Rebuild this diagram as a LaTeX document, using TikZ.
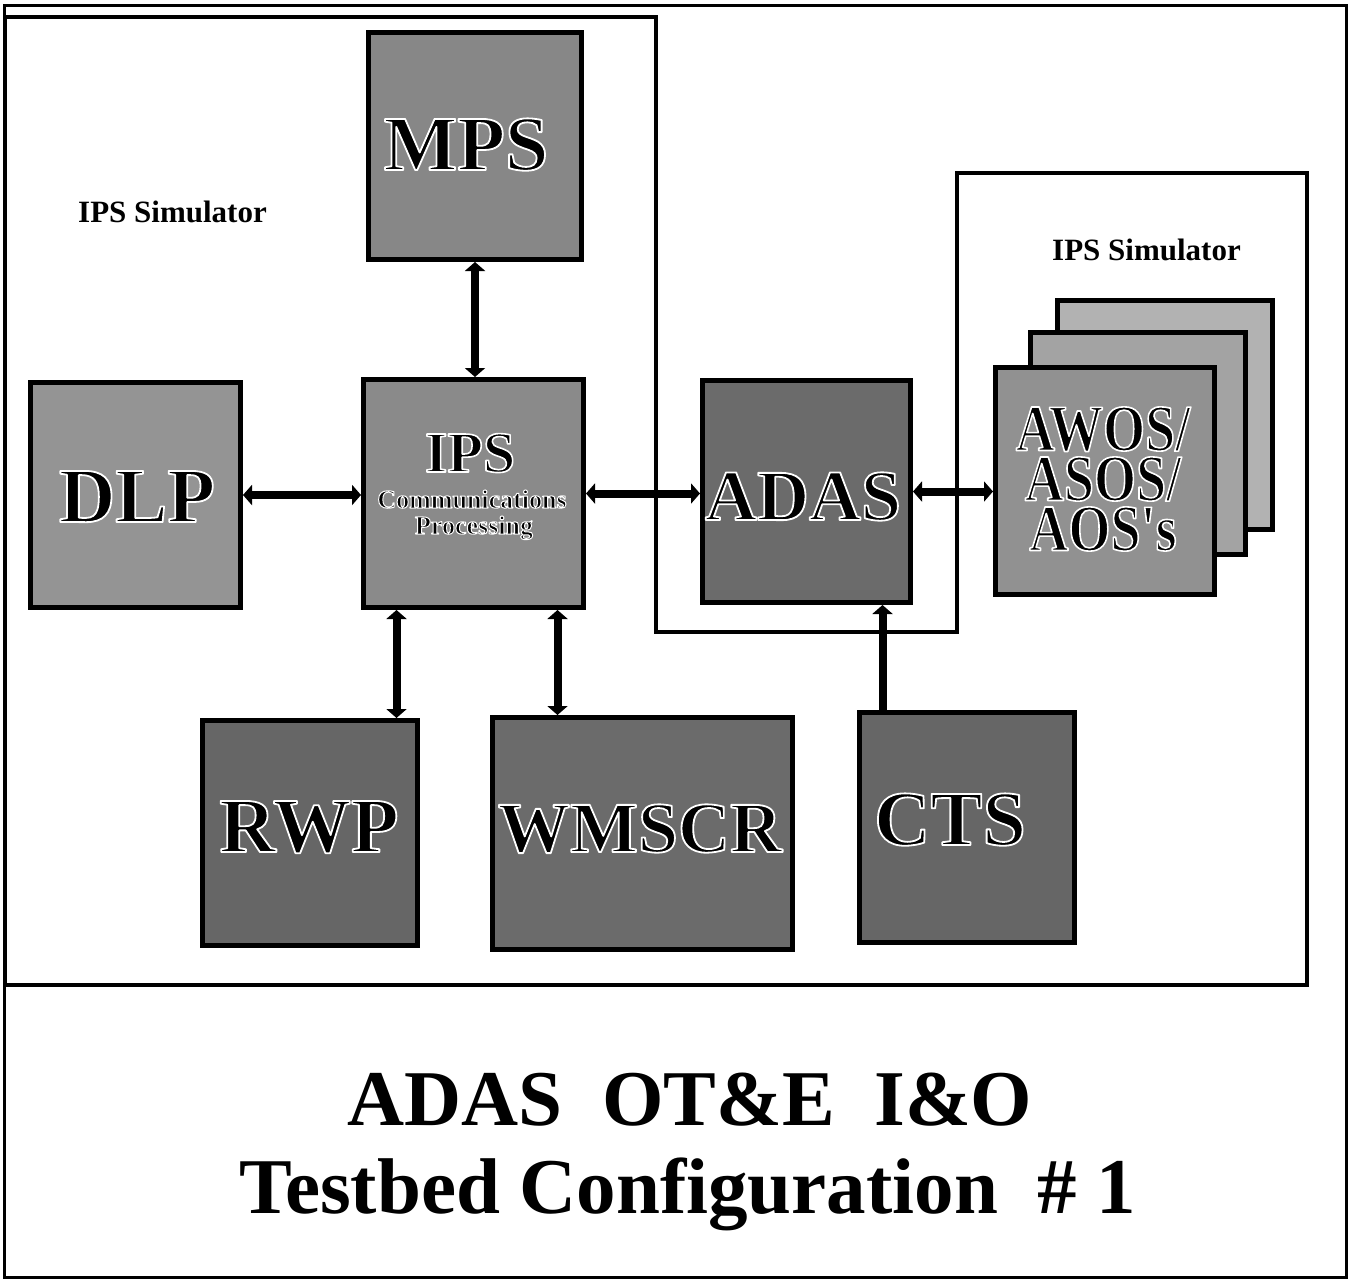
\documentclass[tikz,border=0pt]{standalone}
\usepackage{fontspec}
\setmainfont{Liberation Serif}
\newfontfamily\condfont[FakeStretch=0.82]{Liberation Serif}
\usetikzlibrary{arrows.meta}
% thin white outline round black letters: text render mode 2 (fill, then stroke) with a white stroke
\newcommand\halo[2][1.8]{\special{pdf:literal direct 2 Tr #1 w 1 j 1 G}#2\special{pdf:literal direct 0 Tr 0 G}}
\tikzset{
  blk/.style={draw=black, line width=5pt, rectangle, inner sep=0pt},
  lbl/.style={font=\fontsize{78}{78}\selectfont\bfseries, anchor=base, inner sep=0pt},
  small/.style={font=\fontsize{26}{26}\selectfont\bfseries, anchor=base, inner sep=0pt},
  simlbl/.style={font=\fontsize{31}{31}\selectfont\bfseries, anchor=base west, inner sep=0pt},
  ttl/.style={font=\fontsize{79}{79}\selectfont\bfseries, anchor=base, inner sep=0pt},
  conn/.style={line width=8pt, arrows={Triangle[length=9pt,width=20pt]-Triangle[length=9pt,width=20pt]}},
  conn1/.style={line width=8pt, arrows={-Triangle[length=9pt,width=20pt]}},
  framel/.style={line width=4pt, line join=miter}
}
\begin{document}
\begin{tikzpicture}[x=1pt,y=-1pt]
\useasboundingbox (0,0) rectangle (1352,1280);
% frames
\draw[line width=3pt] (4,5) rectangle (1346,1277);
\draw[framel] (5,17) -- (656,17) -- (656,632) -- (957,632) -- (957,173) -- (1307,173) -- (1307,985) -- (5,985) -- cycle;
% labels of simulators
\node[simlbl] (sim1) at (78,222) {IPS Simulator};
\node[simlbl] (sim2) at (1052,260) {IPS Simulator};
% boxes
\node[blk, fill=black!47, minimum width=213pt, minimum height=227pt] (mps) at (475,146) {};
\node[blk, fill=black!42, minimum width=210pt, minimum height=225pt] (dlp) at (135.5,495) {};
\node[blk, fill=black!46, minimum width=220pt, minimum height=228pt] (ips) at (473.5,493.5) {};
\node[blk, fill=black!58, minimum width=208pt, minimum height=222pt] (adas) at (806.5,491.5) {};
\node[blk, fill=black!30, minimum width=215pt, minimum height=229pt] (awos3) at (1165,415) {};
\node[blk, fill=black!36, minimum width=215pt, minimum height=222pt] (awos2) at (1138,443.5) {};
\node[blk, fill=black!43, minimum width=219pt, minimum height=227pt] (awos1) at (1105,481) {};
\node[blk, fill=black!60, minimum width=215pt, minimum height=225pt] (rwp) at (310,833) {};
\node[blk, fill=black!58, minimum width=300pt, minimum height=232pt] (wmscr) at (642.5,833.5) {};
\node[blk, fill=black!60, minimum width=215pt, minimum height=230pt] (cts) at (967,827.5) {};
% box labels
\node[lbl] (mpsl) at (466,170) {\halo{MPS}};
\node[lbl] (dlpl) at (137,522) {\halo{DLP}};
\node[lbl, font=\fontsize{58}{58}\selectfont\bfseries] (ipsl) at (470,472) {\halo[1.6]{IPS}};
\node[small] (ipsl2) at (472,508) {\halo[1]{Communications}};
\node[small] (ipsl3) at (474,534) {\halo[1]{Processing}};
\node[lbl, font=\fontsize{72}{72}\selectfont\bfseries] (adasl) at (803,520) {\halo{ADAS}};
\node[lbl, anchor=center, align=center, font=\fontsize{66}{50}\condfont\bfseries] (awl) at (1103,479)
  {\halo[1.6]{AWOS/}\\\halo[1.6]{ASOS/}\\\halo[1.6]{AOS's}};
\node[lbl] (rwpl) at (309,852) {\halo{RWP}};
\node[lbl, font=\fontsize{72}{72}\selectfont\bfseries] (wmscrl) at (640,852) {\halo{WMSCR}};
\node[lbl] (ctsl) at (950,845) {\halo{CTS}};
% connectors
\draw[conn] (mps.south) -- (mps.south |- ips.north);
\draw[conn] (dlp.east) -- (dlp.east -| ips.west);
\draw[conn] (ips.east) -- (ips.east -| adas.west);
\draw[conn] (adas.east) -- (adas.east -| awos1.west);
\draw[conn] ([xshift=-77pt]ips.south) -- ([xshift=-77pt]ips.south |- rwp.north);
\draw[conn] ([xshift=84pt]ips.south) -- ([xshift=84pt]ips.south |- wmscr.north);
\draw[conn1] ([xshift=76pt]adas.south |- cts.north) -- ([xshift=76pt]adas.south);
% title
\node[ttl] (title1) at (690,1125) {ADAS\ \ OT\&E\ \ I\&O};
\node[ttl] (title2) at (688,1213) {Testbed Configuration\ \ \# 1};
\end{tikzpicture}
\end{document}
